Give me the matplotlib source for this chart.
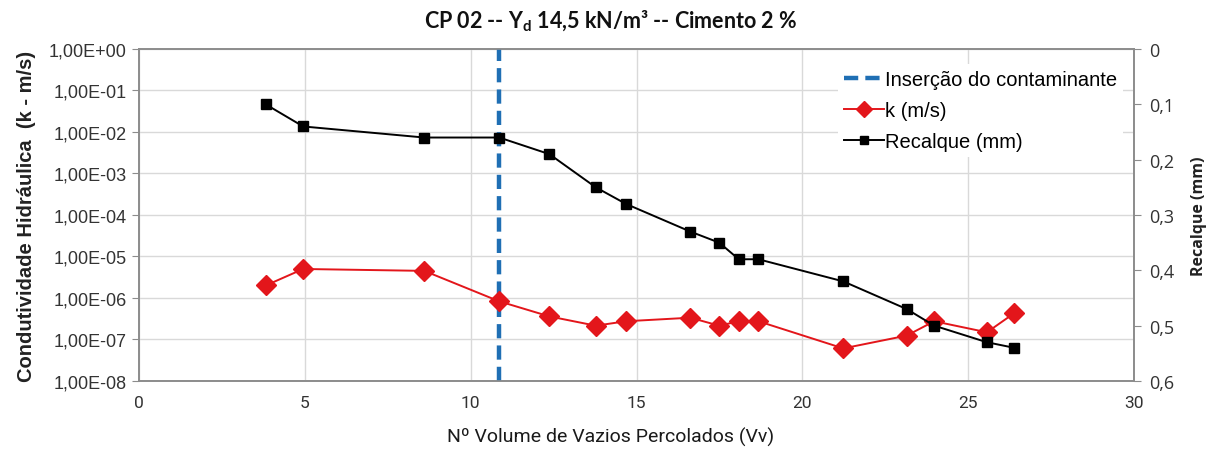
import matplotlib
matplotlib.use("Agg")
import matplotlib.pyplot as plt
from matplotlib.ticker import FuncFormatter, FixedLocator, NullLocator

plt.rcParams['font.family'] = ['Liberation Sans', 'DejaVu Sans']
plt.rcParams['mathtext.fontset'] = 'custom'
plt.rcParams['mathtext.rm'] = 'Lato'
plt.rcParams['mathtext.bf'] = 'Lato:bold'

# ensaio CP 02 - volumes percolados, permeabilidade e recalque
vv = [3.82, 4.95, 8.6, 10.86, 12.37, 13.77, 14.68, 16.62, 17.49, 18.08,
      18.67, 21.23, 23.14, 23.97, 25.56, 26.38]
k_ms = [2.0e-6, 5.0e-6, 4.5e-6, 8.3e-7, 3.6e-7, 2.15e-7, 2.75e-7, 3.35e-7,
        2.15e-7, 2.75e-7, 2.75e-7, 6.1e-8, 1.24e-7, 2.75e-7, 1.49e-7, 4.3e-7]
recalque = [0.10, 0.14, 0.16, 0.16, 0.19, 0.25, 0.28, 0.33, 0.35, 0.38,
            0.38, 0.42, 0.47, 0.50, 0.53, 0.54]
insercao = 10.86

x_ticks = [0, 5, 10, 15, 20, 25, 30]
k_ticks = [1e0, 1e-1, 1e-2, 1e-3, 1e-4, 1e-5, 1e-6, 1e-7, 1e-8]
rec_ticks = [0, 0.1, 0.2, 0.3, 0.4, 0.5, 0.6]

fig = plt.figure(figsize=(12.22, 4.52), dpi=100)
ax = fig.add_axes([0.1137, 0.1549, 0.8145, 0.7345])
ax2 = ax.twinx()

gray = '#8c8c8c'
grid = '#d9d9d9'
narrow = ['Roboto', 'DejaVu Sans']

ax.set_yscale('log')
ax.set_ylim(1e-8, 1e0)
ax.set_xlim(0, 30)
ax.yaxis.set_major_locator(FixedLocator(k_ticks))
ax.yaxis.set_minor_locator(NullLocator())
ax.xaxis.set_major_locator(FixedLocator(x_ticks))
ax.yaxis.set_major_formatter(FuncFormatter(lambda v, p: f"{v:.2E}".replace('.', ',')))
ax.grid(True, color=grid, lw=1)
ax.set_axisbelow(True)

ax2.set_ylim(0.6, 0)
ax2.yaxis.set_major_locator(FixedLocator(rec_ticks))
ax2.yaxis.set_major_formatter(FuncFormatter(lambda v, p: f"{v:g}".replace('.', ',')))

for a in (ax, ax2):
    for s in a.spines.values():
        s.set_color(gray)
        s.set_linewidth(1.2)

ax.tick_params(axis='y', which='major', length=5, color=gray, labelsize=13,
               labelcolor='#333333', pad=4)
ax.tick_params(axis='x', length=0, pad=10)
for lb in ax.get_xticklabels():
    lb.set_fontfamily(narrow)
    lb.set_fontsize(12.5)
    lb.set_color('#333333')
ax2.tick_params(axis='y', length=5, color=gray, labelsize=13, labelcolor='#333333', pad=6)
for lb in ax2.get_yticklabels():
    lb.set_fontfamily(['Open Sans', 'DejaVu Sans'])

vline = ax.axvline(insercao, color='#1f6fb4', lw=3.2, ls=(0, (3.2, 1.6)),
                   label='Inserção do contaminante', zorder=3)
lk, = ax.plot(vv, k_ms, color='#e3161b', lw=1.4, marker='D', ms=10,
              label='k (m/s)', zorder=4)
lr, = ax2.plot(vv, recalque, color='black', lw=1.4, marker='s', ms=6.5,
               label='Recalque (mm)', zorder=4)

leg = ax2.legend(handles=[vline, lk, lr], loc='upper right', bbox_to_anchor=(0.999, 0.985),
                 frameon=True, facecolor='white', edgecolor='none', framealpha=1,
                 fontsize=14.5, handlelength=2.0, handletextpad=0.05, labelspacing=0.6,
                 borderpad=0.3, markerscale=0.8)

ax.set_ylabel('Condutividade Hidráulica  (k - m/s)', fontsize=14.5, fontweight='bold',
              color='#222222', labelpad=9)
ax2.set_ylabel('Recalque (mm)', fontsize=11.5, fontweight='bold', fontfamily='Open Sans',
               color='#222222', labelpad=12)

fig.text(0.5, 0.012, 'Nº Volume de Vazios Percolados (Vv)', ha='center', va='bottom',
         fontsize=14, fontfamily=narrow, color='#1a1a1a')
fig.text(0.5, 0.925, r'CP 02 -- Y$_{\mathbf{d}}$ 14,5 kN/m³ -- Cimento 2 %', ha='center',
         va='bottom', fontsize=15.5, fontweight='bold', fontfamily='Lato', color='#111111')

fig.savefig('out.png', dpi=100)
